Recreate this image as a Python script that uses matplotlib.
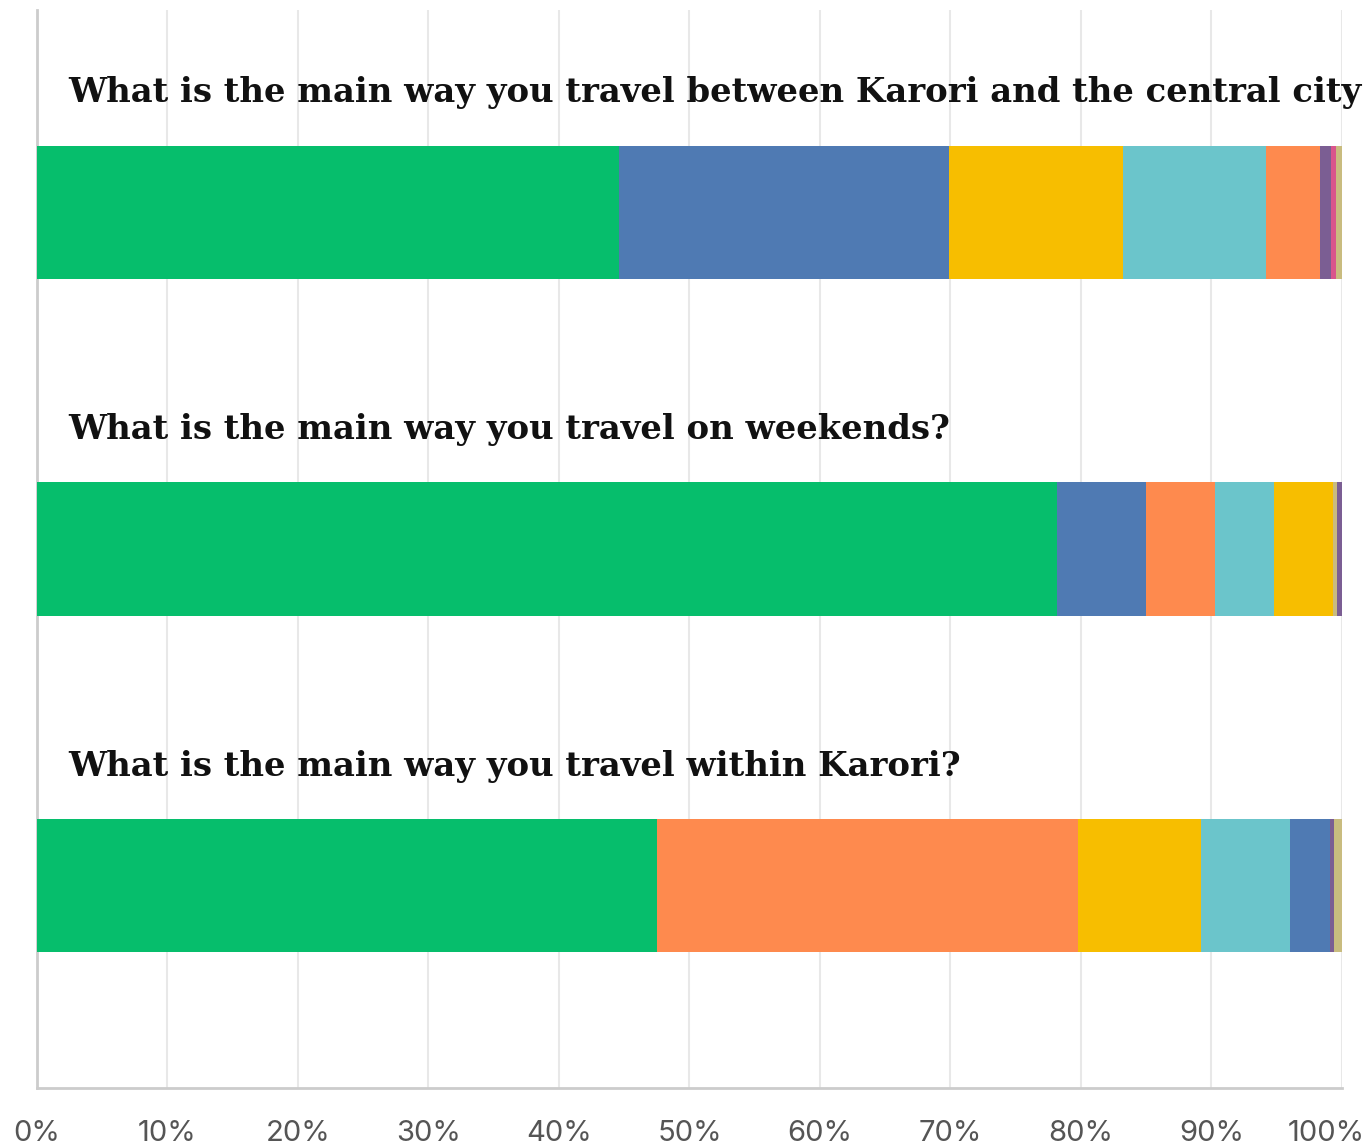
import matplotlib.pyplot as plt
import matplotlib.transforms as mtransforms
import numpy as np

questions = ['What is the main way you travel between Karori and the central city',
             'What is the main way you travel on weekends?',
             'What is the main way you travel within Karori?']

# share of respondents (%) per mode, in drawing order for each question
modes = [
    ['Car', 'Bus', 'Other A', 'Other B', 'Walk', 'Other C', 'Other D', 'Other E'],
    ['Car', 'Bus', 'Walk', 'Other B', 'Other A', 'Other E', 'Other C'],
    ['Car', 'Walk', 'Other A', 'Other B', 'Bus', 'Other C', 'Other E'],
]
shares = [
    [44.6, 25.3, 13.3, 11.0, 4.1, 0.85, 0.4, 0.45],
    [78.2, 6.8, 5.3, 4.5, 4.5, 0.3, 0.4],
    [47.5, 32.3, 9.4, 6.8, 3.1, 0.3, 0.6],
]

colors = {'Car': '#06BE6C', 'Bus': '#4F7AB3', 'Other A': '#F7BE00',
          'Other B': '#6BC5CB', 'Walk': '#FE8A4E', 'Other C': '#7B5E93',
          'Other D': '#D9558C', 'Other E': '#C9BC7F'}

fig = plt.figure(figsize=(13.67, 11.46), dpi=100)
ax = fig.add_axes([0.027, 0.0506, 0.9547, 0.9407])

ypos = np.arange(len(questions))
for i in range(len(questions)):
    left = 0
    for m, v in zip(modes[i], shares[i]):
        ax.barh(ypos[i], v, left=left, height=0.395, color=colors[m], zorder=3)
        left += v
    ax.text(2.4, ypos[i] - 0.355, questions[i], fontsize=24.4, fontweight='bold',
            family='DejaVu Serif', va='center', ha='left', color='#111111',
            clip_on=False)

ax.set_xlim(0, 100)
ax.set_ylim(2.6, -0.6)
ax.set_xticks(np.arange(0, 101, 10))
ax.set_xticklabels([f'{t}%' for t in range(0, 101, 10)])
ax.set_yticks([])
ax.tick_params(axis='x', length=0, pad=23, labelsize=21, labelcolor='#555555')
for lab in ax.get_xticklabels():
    lab.set_family('Inter')
# last label is pulled inside the figure like in the source
last = ax.get_xticklabels()[-1]
last.set_horizontalalignment('right')
last.set_transform(last.get_transform() +
                   mtransforms.ScaledTranslation(0.23, 0, fig.dpi_scale_trans))
ax.grid(axis='x', color='#e8e8e8', linewidth=1.5, zorder=0)
for s in ['top', 'right']:
    ax.spines[s].set_visible(False)
ax.spines['left'].set_color('#cccccc')
ax.spines['bottom'].set_color('#cccccc')
ax.spines['left'].set_linewidth(2)
ax.spines['bottom'].set_linewidth(2)

plt.savefig('out.png', dpi=100)
